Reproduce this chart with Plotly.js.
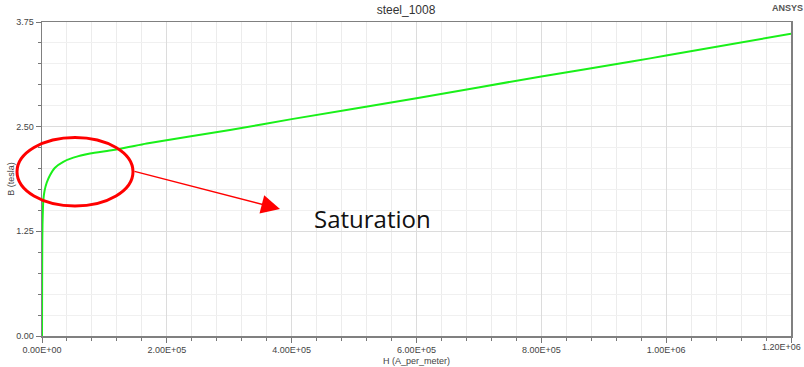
<!DOCTYPE html>
<html>
<head>
<meta charset="utf-8">
<script src="https://cdn.plot.ly/plotly-3.0.1.min.js"></script>
<style>html,body{margin:0;padding:0;background:#fff;}#chart{width:804px;height:367px;}</style>
</head>
<body>
<div id="chart"></div>
<script>
// B-H curve of steel_1008
const hValues = [0, 150, 300, 500, 800, 1200, 2100, 4000, 7500, 12800, 20800, 34100, 50200, 76900, 113800, 141000, 167700, 301200, 400000, 600000, 800000, 947000, 1000000, 1200000];
const bValues = [0, 0.45, 0.85, 1.15, 1.33, 1.45, 1.62, 1.73, 1.83, 1.92, 2.01, 2.08, 2.13, 2.18, 2.22, 2.26, 2.30, 2.46, 2.59, 2.84, 3.10, 3.28, 3.35, 3.61];

const xTickVals = [0, 200000, 400000, 600000, 800000, 1000000, 1200000];
const xTickLabels = ["0.00E+00", "2.00E+05", "4.00E+05", "6.00E+05", "8.00E+05", "1.00E+06", "1.20E+06"];
const yTickVals = [0, 1.25, 2.5, 3.75];
const yTickLabels = ["0.00", "1.25", "2.50", "3.75"];

const chartTitle = "steel_1008";
const xTitle = "H (A_per_meter)";
const yTitle = "B (tesla)";
const noteText = "Saturation";
const brandText = "ANSYS";

// plot area in pixels: left 42, right 791, top 22, bottom 336
const PL = 42, PR = 791, PT = 22, PB = 336;
const px = v => (v - PL) / (PR - PL);
const py = v => (PB - v) / (PB - PT);

const axisFont = {family: "Liberation Sans, Arial, sans-serif", size: 9, color: "#444"};

// the last x tick label sits at the right page edge: draw it as an annotation kept inside the page
const lastIdx = xTickLabels.length - 1;
const shownXLabels = xTickLabels.map((t, i) => i === lastIdx ? "" : t);

const trace = {
  x: hValues, y: bValues, type: "scatter", mode: "lines",
  line: {color: "#19f019", width: 2, shape: "spline", smoothing: 0.6},
  hoverinfo: "skip", showlegend: false
};

const layout = {
  width: 804, height: 367,
  margin: {l: PL, r: 804 - PR, t: PT, b: 367 - PB, pad: 0},
  paper_bgcolor: "#fff", plot_bgcolor: "#fff",
  font: axisFont,
  title: {
    text: chartTitle,
    font: {family: "Liberation Sans, Arial, sans-serif", size: 12, color: "#333"},
    xref: "container", x: 406 / 804, xanchor: "center",
    yref: "container", y: 1 - 10 / 367, yanchor: "middle"
  },
  xaxis: {
    range: [0, 1200000], autorange: false,
    tickmode: "array", tickvals: xTickVals, ticktext: shownXLabels,
    ticklabeloverflow: "allow",
    ticks: "outside", ticklen: 5, tickcolor: "#777", tickwidth: 1,
    tickfont: axisFont,
    showline: true, linecolor: "#808080", linewidth: 1.5, mirror: true,
    showgrid: true, gridcolor: "#dcdcdc", gridwidth: 1,
    zeroline: false,
    minor: {dtick: 40000, tick0: 0, ticks: "outside", ticklen: 3, tickcolor: "#777", showgrid: true, gridcolor: "#ececec", gridwidth: 1},
    title: {text: xTitle, font: {family: "Liberation Sans, Arial, sans-serif", size: 9, color: "#444"}, standoff: 3},
    automargin: false
  },
  yaxis: {
    range: [0, 3.75], autorange: false,
    tickmode: "array", tickvals: yTickVals, ticktext: yTickLabels,
    ticks: "outside", ticklen: 5, tickcolor: "#777", tickwidth: 1,
    tickfont: axisFont,
    showline: true, linecolor: "#808080", linewidth: 1.5, mirror: true,
    showgrid: true, gridcolor: "#dcdcdc", gridwidth: 1,
    zeroline: false,
    minor: {dtick: 0.25, tick0: 0, ticks: "outside", ticklen: 3, tickcolor: "#777", showgrid: true, gridcolor: "#f0f0f0", gridwidth: 1},
    title: {text: yTitle, font: {family: "Liberation Sans, Arial, sans-serif", size: 9, color: "#444"}, standoff: 0},
    automargin: false
  },
  shapes: [{
    type: "circle", xref: "paper", yref: "paper",
    x0: px(17), x1: px(133), y0: py(206), y1: py(137.5),
    line: {color: "#ff0000", width: 3}, fillcolor: "rgba(0,0,0,0)"
  }],
  annotations: [
    {
      xref: "paper", yref: "paper", x: px(280), y: py(209),
      showarrow: true, axref: "pixel", ayref: "pixel", ax: 133 - 280, ay: 171 - 209,
      arrowhead: 2, arrowsize: 2.5, arrowwidth: 1.5, arrowcolor: "#ff0000",
      standoff: 0, startstandoff: 0, text: ""
    },
    {
      xref: "paper", yref: "paper", x: px(372), y: py(218),
      xanchor: "center", yanchor: "middle", showarrow: false,
      text: noteText, font: {family: "Open Sans, Noto Sans, sans-serif", size: 24, color: "#111"}
    },
    {
      xref: "paper", yref: "paper", x: px(770), y: py(8),
      xanchor: "left", yanchor: "middle", showarrow: false,
      text: "<b>" + brandText + "</b>", font: {family: "Liberation Sans, Arial, sans-serif", size: 9, color: "#555"}
    },
    {
      xref: "paper", yref: "paper", x: px(803), y: py(347),
      xanchor: "right", yanchor: "middle", showarrow: false,
      text: xTickLabels[lastIdx], font: axisFont
    }
  ]
};

Plotly.newPlot("chart", [trace], layout, {displayModeBar: false, staticPlot: true});
</script>
</body>
</html>
